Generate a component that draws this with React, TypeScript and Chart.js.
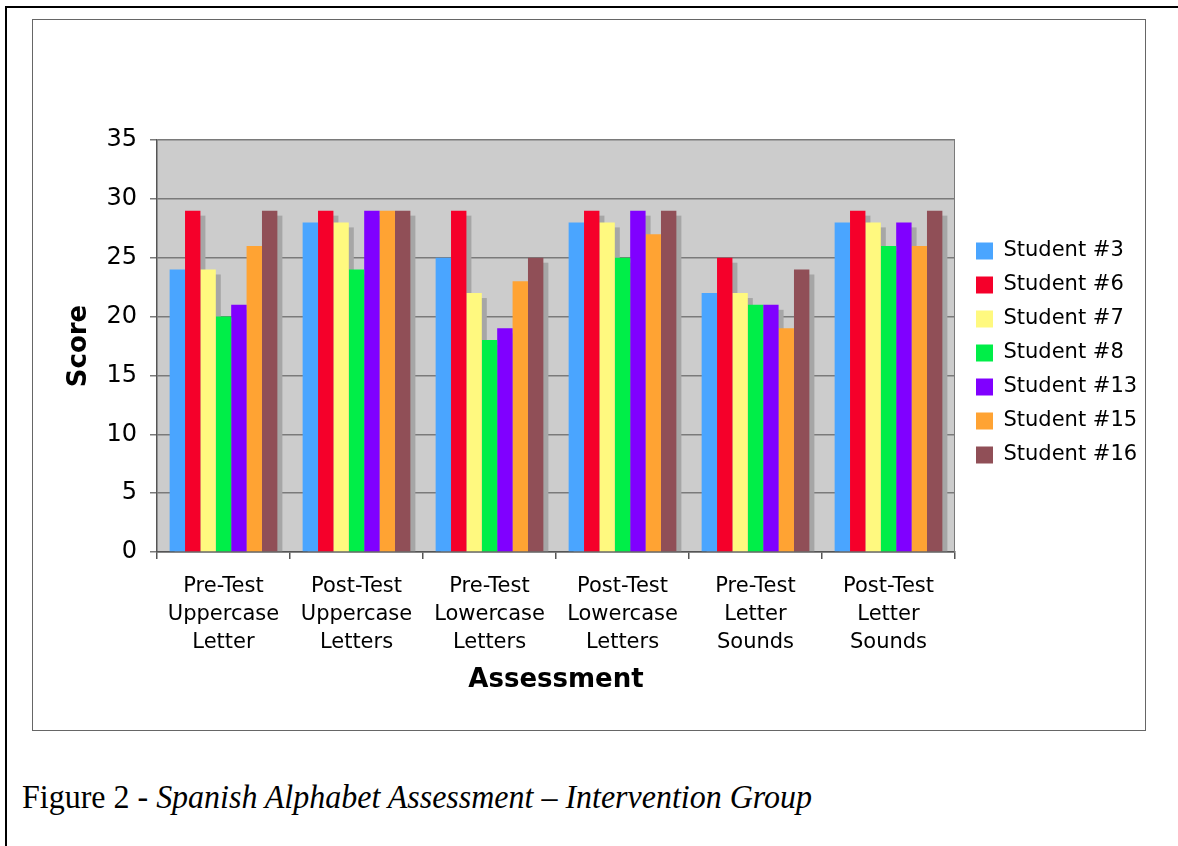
import React, { useEffect, useLayoutEffect, useRef } from "react";
import { Chart, registerables } from "chart.js";

Chart.register(...registerables);

const categories: string[][] = [
  ["Pre-Test", "Uppercase", "Letter"],
  ["Post-Test", "Uppercase", "Letters"],
  ["Pre-Test", "Lowercase", "Letters"],
  ["Post-Test", "Lowercase", "Letters"],
  ["Pre-Test", "Letter", "Sounds"],
  ["Post-Test", "Letter", "Sounds"],
];

const student3 = [24, 28, 25, 28, 22, 28];
const student6 = [29, 29, 29, 29, 25, 29];
const student7 = [24, 28, 22, 28, 22, 28];
const student8 = [20, 24, 18, 25, 21, 26];
const student13 = [21, 29, 19, 29, 21, 28];
const student15 = [26, 29, 23, 27, 19, 26];
const student16 = [29, 29, 25, 29, 24, 29];

const seriesNames = [
  "Student #3",
  "Student #6",
  "Student #7",
  "Student #8",
  "Student #13",
  "Student #15",
  "Student #16",
];
const seriesValues = [student3, student6, student7, student8, student13, student15, student16];
const seriesColors = ["#4aa5ff", "#f5002a", "#fff97f", "#00ee48", "#8000ff", "#ffa333", "#904f57"];

const yMin = 0;
const yMax = 35;
const yStep = 5;

const yTitle = "Score";
const xTitle = "Assessment";
const captionPrefix = "Figure 2 - ";
const captionItalic = "Spanish Alphabet Assessment \u2013 Intervention Group";

const FONT = "'DejaVu Sans', Verdana, sans-serif";

const plotBackground = {
  id: "plotBackground",
  beforeDraw(chart: any) {
    const { ctx, chartArea } = chart;
    ctx.save();
    ctx.fillStyle = "#cccccc";
    ctx.fillRect(chartArea.left, chartArea.top, chartArea.width, chartArea.height);
    ctx.restore();
  },
};

const barShadow = {
  id: "barShadow",
  beforeDatasetsDraw(chart: any) {
    const { ctx, chartArea } = chart;
    ctx.save();
    ctx.beginPath();
    ctx.rect(chartArea.left, chartArea.top, chartArea.width, chartArea.height);
    ctx.clip();
    ctx.fillStyle = "#a6a6a6";
    chart.data.datasets.forEach((_ds: any, i: number) => {
      const meta = chart.getDatasetMeta(i);
      meta.data.forEach((bar: any) => {
        const { x, y, base, width } = bar.getProps(["x", "y", "base", "width"], true);
        ctx.fillRect(x - width / 2 + 5, y + 5, width, base - y - 5);
      });
    });
    // right border of plot
    ctx.strokeStyle = "#7a7a7a";
    ctx.lineWidth = 2;
    ctx.beginPath();
    ctx.moveTo(chartArea.right, chartArea.top);
    ctx.lineTo(chartArea.right, chartArea.bottom);
    ctx.stroke();
    ctx.restore();
  },
};

function ChartCanvas() {
  const ref = useRef<HTMLCanvasElement | null>(null);
  useEffect(() => {
    if (!ref.current) return;
    const chart = new Chart(ref.current, {
      type: "bar",
      data: {
        labels: categories,
        datasets: seriesNames.map((name, i) => ({
          label: name,
          data: seriesValues[i],
          backgroundColor: seriesColors[i],
          borderWidth: 0,
          barPercentage: 1,
          categoryPercentage: 0.81,
        })),
      },
      options: {
        animation: false,
        responsive: false,
        maintainAspectRatio: false,
        devicePixelRatio: 1,
        layout: { padding: { left: 20, top: 120, right: 0, bottom: 10 } },
        plugins: {
          tooltip: { enabled: false },
          legend: {
            position: "right",
            align: "center",
            fullSize: false,
            title: { display: true, text: " ", font: { size: 14, lineHeight: 1 }, padding: 0 },
            labels: {
              boxWidth: 17,
              boxHeight: 17,
              padding: 13,
              color: "#000",
              font: { family: FONT, size: 21, lineHeight: 1 },
            },
          },
        },
        scales: {
          x: {
            grid: {
              display: true,
              drawOnChartArea: false,
              drawTicks: true,
              tickLength: 7,
              color: "#555",
              lineWidth: 1.5,
              offset: true,
            },
            border: { color: "#555", width: 1.5 },
            ticks: {
              color: "#000",
              font: { family: FONT, size: 21, lineHeight: 1.333 },
              padding: 14,
              maxRotation: 0,
              autoSkip: false,
            },
            title: {
              display: true,
              text: xTitle,
              color: "#000",
              font: { family: FONT, size: 26, weight: "bold", lineHeight: 1.2 },
              padding: { top: 0, bottom: 24 },
            },
            afterFit: (s: any) => {
              s.height = 168;
            },
          },
          y: {
            min: yMin,
            max: yMax,
            ticks: {
              stepSize: yStep,
              color: "#000",
              font: { family: FONT, size: 24 },
              padding: 13,
            },
            grid: { color: "#7a7a7a", lineWidth: 1.5, tickLength: 7 },
            border: { color: "#555", width: 1.5 },
            title: {
              display: true,
              text: yTitle,
              color: "#000",
              font: { family: FONT, size: 26, weight: "bold", lineHeight: 1.2 },
              padding: { top: 11, bottom: 0 },
            },
            afterFit: (s: any) => {
              s.width = 104;
            },
          },
          gap: {
            position: "right",
            display: true,
            ticks: { display: false },
            grid: { display: false },
            border: { display: false },
            afterFit: (s: any) => {
              s.width = 8;
            },
          },
        },
      } as any,
      plugins: [plotBackground, barShadow],
    });
    return () => chart.destroy();
  }, []);
  return <canvas ref={ref} width={1112} height={710} style={{ width: 1112, height: 710, display: "block" }} />;
}

function Caption() {
  const ref = useRef<HTMLDivElement | null>(null);
  useLayoutEffect(() => {
    const el = ref.current;
    if (!el) return;
    el.style.transform = "none";
    const w = el.getBoundingClientRect().width;
    if (w > 0) el.style.transform = `scaleX(${790 / w})`;
  }, []);
  return (
    <div
      ref={ref}
      style={{
        position: "absolute",
        left: 22,
        top: 777,
        fontFamily: "'Liberation Serif', 'Times New Roman', serif",
        fontSize: 34,
        lineHeight: "40px",
        color: "#000",
        whiteSpace: "nowrap",
        transformOrigin: "left top",
        display: "inline-block",
      }}
    >
      {captionPrefix}
      <i>{captionItalic}</i>
    </div>
  );
}

export default function App() {
  return (
    <div style={{ position: "absolute", left: 0, top: 0, width: 1178, height: 846, background: "#fff", overflow: "hidden" }}>
      <div style={{ position: "absolute", left: 5, top: 6, width: 1173, height: 2, background: "#000" }} />
      <div style={{ position: "absolute", left: 5, top: 6, width: 2, height: 840, background: "#000" }} />
      <div
        style={{
          position: "absolute",
          left: 32,
          top: 19,
          width: 1114,
          height: 712,
          border: "1px solid #666",
          boxSizing: "border-box",
          background: "#fff",
        }}
      />
      <div style={{ position: "absolute", left: 33, top: 20 }}>
        <ChartCanvas />
      </div>
      <Caption />
    </div>
  );
}
